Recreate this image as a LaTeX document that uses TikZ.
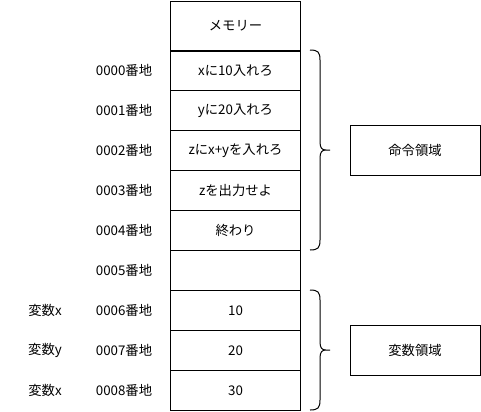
\documentclass[tikz,border=0pt]{standalone}
\usepackage{fontspec}
\setmainfont{Noto Sans CJK JP}
\begin{document}
\begin{tikzpicture}[x=0.75pt,y=-0.75pt,
  cell/.style={draw=black,line width=0.75pt,minimum width=97.5pt,minimum height=30pt,inner sep=0pt,font=\fontsize{10}{12}\selectfont,anchor=north west},
  lbl/.style={font=\fontsize{10}{12}\selectfont,inner sep=0pt},
  areabox/.style={draw=black,line width=0.75pt,minimum width=97.5pt,minimum height=37.5pt,inner sep=0pt,font=\fontsize{10}{12}\selectfont},
  bracepath/.style={draw=black,line width=0.75pt}]
\useasboundingbox (0,0) rectangle (481,411);
\node[cell,minimum height=37.5pt] (head) at (170,0.5) {メモリー};
\node[cell] (m0) at (170,50) {xに10入れろ};
\node[cell] (m1) at (170,90) {yに20入れろ};
\node[cell] (m2) at (170,130) {zにx+yを入れろ};
\node[cell] (m3) at (170,170) {zを出力せよ};
\node[cell] (m4) at (170,210) {終わり};
\node[cell] (m5) at (170,250) {};
\node[cell] (m6) at (170,290) {10};
\node[cell] (m7) at (170,330) {20};
\node[cell] (m8) at (170,370) {30};
\foreach \i/\t in {0/0000,1/0001,2/0002,3/0003,4/0004,5/0005,6/0006,7/0007,8/0008}
  \node[lbl] (a\i) at (124,{70+40*\i}) {\t 番地};
\node[lbl] (v6) at (45,310) {変数x};
\node[lbl] (v7) at (45,350) {変数y};
\node[lbl] (v8) at (45,390) {変数x};
\node[areabox] (cmd) at (415,150) {命令領域};
\node[areabox] (var) at (415,350) {変数領域};
\draw[bracepath] (310,50) .. controls (318,50) and (320,52) .. (320,60) -- (320,142)
  .. controls (320,148) and (322,150) .. (326,150) -- (330,150)
  (326,150) .. controls (322,150) and (320,152) .. (320,158) -- (320,240)
  .. controls (320,248) and (318,250) .. (310,250);
\draw[bracepath] (310,290) .. controls (318,290) and (320,292) .. (320,300) -- (320,342)
  .. controls (320,348) and (322,350) .. (326,350) -- (330,350)
  (326,350) .. controls (322,350) and (320,352) .. (320,358) -- (320,400)
  .. controls (320,408) and (318,410) .. (310,410);
\end{tikzpicture}
\end{document}
